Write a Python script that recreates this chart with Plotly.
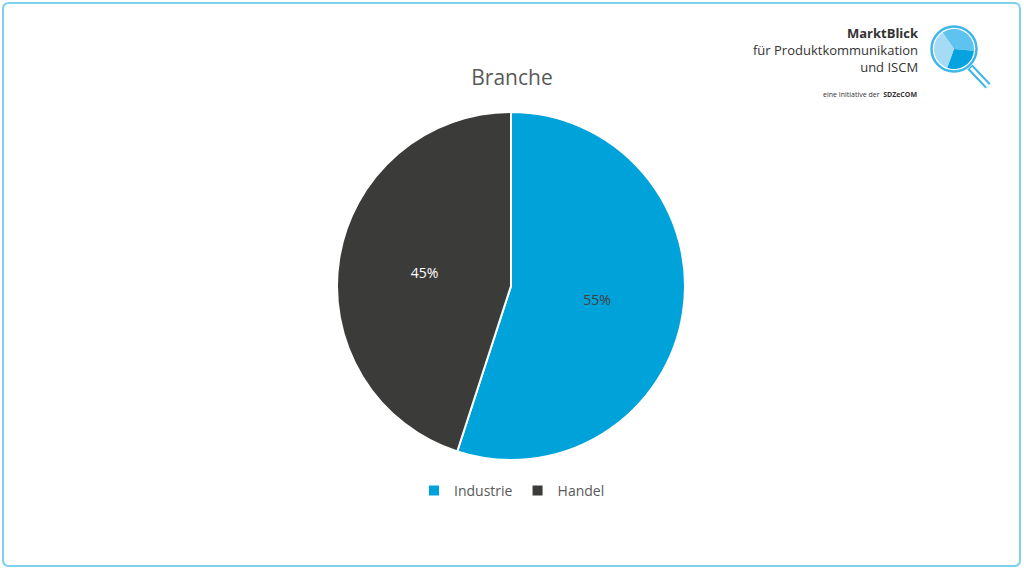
import math

import plotly.graph_objects as go

W, H = 1024, 570

categories = ["Industrie", "Handel"]
shares = [55, 45]
colors = ["#00a2da", "#3b3b3a"]
text_colors = ["#404040", "#ffffff"]
title = "Branche"


def px_x(x):
    return x / W


def px_y(y):
    return 1 - y / H


fig = go.Figure()

fig.add_trace(
    go.Pie(
        labels=categories,
        values=shares,
        sort=False,
        direction="clockwise",
        rotation=0,
        marker=dict(colors=colors, line=dict(color="#ffffff", width=2)),
        texttemplate="%{percent:.0%}",
        textposition="inside",
        insidetextorientation="horizontal",
        textfont=dict(color=text_colors, size=14, family="Open Sans"),
        domain=dict(x=[px_x(337), px_x(685)], y=[px_y(460), px_y(112)]),
        hoverinfo="label+percent",
    )
)

# rounded frame around the whole chart
x0, y0, x1, y1, r = 3, 3, 1020, 566, 6
frame = (
    f"M {px_x(x0 + r)},{px_y(y0)} L {px_x(x1 - r)},{px_y(y0)} "
    f"Q {px_x(x1)},{px_y(y0)} {px_x(x1)},{px_y(y0 + r)} "
    f"L {px_x(x1)},{px_y(y1 - r)} Q {px_x(x1)},{px_y(y1)} {px_x(x1 - r)},{px_y(y1)} "
    f"L {px_x(x0 + r)},{px_y(y1)} Q {px_x(x0)},{px_y(y1)} {px_x(x0)},{px_y(y1 - r)} "
    f"L {px_x(x0)},{px_y(y0 + r)} Q {px_x(x0)},{px_y(y0)} {px_x(x0 + r)},{px_y(y0)} Z"
)
shapes = [dict(type="path", xref="paper", yref="paper", path=frame,
               line=dict(color="#7fd0ea", width=2))]

# magnifier logo
cx, cy, rad = 954, 49, 20


def wedge(a0, a1, rr, color):
    pts = [f"M {px_x(cx)},{px_y(cy)}"]
    steps = 20
    for i in range(steps + 1):
        a = math.radians(a0 + (a1 - a0) * i / steps)
        pts.append(f"L {px_x(cx + rr * math.sin(a))},{px_y(cy - rr * math.cos(a))}")
    pts.append("Z")
    return dict(type="path", xref="paper", yref="paper", path=" ".join(pts),
                fillcolor=color, line=dict(width=0))


shapes += [
    wedge(-35, 95, rad, "#5ec4ef"),
    wedge(95, 200, rad, "#06a3e0"),
    wedge(200, 325, rad, "#a5dbf5"),
    dict(type="line", xref="paper", yref="paper",
         x0=px_x(970), y0=px_y(67), x1=px_x(988), y1=px_y(86),
         line=dict(color="#3fb6e8", width=7)),
    dict(type="line", xref="paper", yref="paper",
         x0=px_x(971), y0=px_y(68), x1=px_x(988), y1=px_y(86),
         line=dict(color="#ffffff", width=3)),
    dict(type="circle", xref="paper", yref="paper",
         x0=px_x(cx - rad - 2.5), x1=px_x(cx + rad + 2.5),
         y0=px_y(cy + rad + 2.5), y1=px_y(cy - rad - 2.5),
         line=dict(color="#3fb6e8", width=2.5)),
]

annotations = [
    dict(text="<b>MarktBlick</b><br>für Produktkommunikation<br>und ISCM", align="right",
         x=px_x(921), y=px_y(50), xanchor="right", yanchor="middle",
         font=dict(size=13, color="#333333", family="Open Sans")),
    dict(text="eine Initiative der  <b>SDZeCOM</b>", x=px_x(919), y=px_y(94), xanchor="right",
         yanchor="middle", font=dict(size=7, color="#333333", family="Open Sans")),
]
for a in annotations:
    a.update(xref="paper", yref="paper", showarrow=False)

fig.update_layout(
    width=W,
    height=H,
    margin=dict(l=0, r=0, t=0, b=0),
    paper_bgcolor="#ffffff",
    plot_bgcolor="#ffffff",
    font=dict(family="Open Sans", color="#595959"),
    title=dict(text=title, x=0.5, xanchor="center", y=px_y(78), yanchor="middle",
               font=dict(size=21, color="#595959", family="Open Sans")),
    legend=dict(orientation="h", x=0.5, xanchor="center", y=px_y(491), yanchor="middle",
                font=dict(size=14, color="#595959"), traceorder="normal"),
    shapes=shapes,
    annotations=annotations,
)

fig.write_html("out.html", config={"displayModeBar": False},
               post_script="document.body.style.margin='0';")
